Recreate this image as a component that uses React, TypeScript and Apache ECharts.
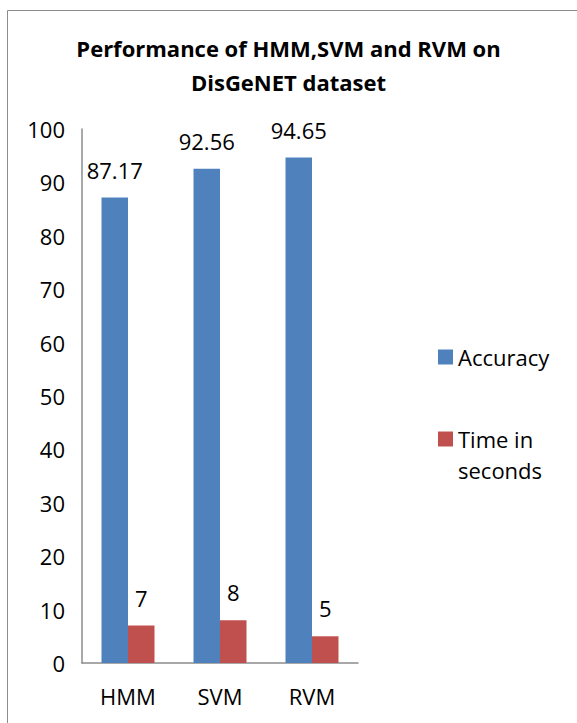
import React, { useEffect, useRef } from "react";
import * as echarts from "echarts";

const categories = ["HMM", "SVM", "RVM"];
const accuracy = [87.17, 92.56, 94.65];
const timeSeconds = [7, 8, 5];
const titleText = "Performance of HMM,SVM and RVM on\nDisGeNET dataset";

const FONT = "'Open Sans', sans-serif";
const FS = 22;

export default function App() {
  const ref = useRef<HTMLDivElement>(null);
  useEffect(() => {
    if (!ref.current) return;
    const chart = echarts.init(ref.current, null, { renderer: "svg" });
    chart.setOption({
      animation: false,
      backgroundColor: "#ffffff",
      title: {
        text: titleText,
        left: "center",
        top: 31,
        padding: 0,
        textStyle: {
          fontFamily: FONT,
          fontWeight: "bold",
          fontSize: 22,
          lineHeight: 34,
          color: "#000",
        },
      },
      graphic: [
        {
          type: "rect",
          shape: { x: 7.5, y: 10.5, width: 700, height: 900 },
          style: { fill: "none", stroke: "#8c8c8c", lineWidth: 1 },
          silent: true,
        },
      ],
      legend: [
        {
          data: ["Accuracy"],
          orient: "vertical",
          left: 438,
          top: 341.5,
          padding: 0,
          itemWidth: 15,
          itemHeight: 15,
          icon: "rect",
          textStyle: { fontFamily: FONT, fontSize: FS, lineHeight: 31, color: "#000" },
        },
        {
          data: ["Time in seconds"],
          orient: "vertical",
          left: 438,
          top: 392.5,
          padding: 0,
          itemWidth: 15,
          itemHeight: 15,
          icon: "rect",
          formatter: (n: string) => (n === "Time in seconds" ? "\nTime in\nseconds" : n),
          textStyle: { fontFamily: FONT, fontSize: FS, lineHeight: 31, color: "#000" },
        },
      ],
      grid: { left: 82, right: 219, top: 129, bottom: 60, containLabel: false },
      xAxis: {
        type: "category",
        data: categories,
        axisLine: { lineStyle: { color: "#8c8c8c", width: 1.5 } },
        axisTick: { show: false },
        axisLabel: { fontFamily: FONT, fontSize: FS, color: "#000", margin: 22 },
      },
      yAxis: {
        type: "value",
        min: 0,
        max: 100,
        interval: 10,
        splitLine: { show: false },
        axisLine: { show: true, lineStyle: { color: "#8c8c8c", width: 1.5 } },
        axisTick: { show: false },
        axisLabel: { fontFamily: FONT, fontSize: FS, color: "#000", margin: 17 },
      },
      series: [
        {
          name: "Accuracy",
          type: "bar",
          data: accuracy,
          barWidth: 26.5,
          barGap: "0%",
          itemStyle: { color: "#4f81bd" },
          label: {
            show: true,
            position: "top",
            distance: 17,
            fontFamily: FONT,
            fontSize: FS,
            color: "#000",
          },
        },
        {
          name: "Time in seconds",
          type: "bar",
          data: timeSeconds,
          barWidth: 26.5,
          barGap: "0%",
          itemStyle: { color: "#c0504d" },
          label: {
            show: true,
            position: "top",
            distance: 17,
            fontFamily: FONT,
            fontSize: FS,
            color: "#000",
          },
        },
      ],
    });
    return () => chart.dispose();
  }, []);
  return (
    <div
      ref={ref}
      style={{ position: "absolute", left: 0, top: 0, width: 577, height: 723 }}
    />
  );
}
